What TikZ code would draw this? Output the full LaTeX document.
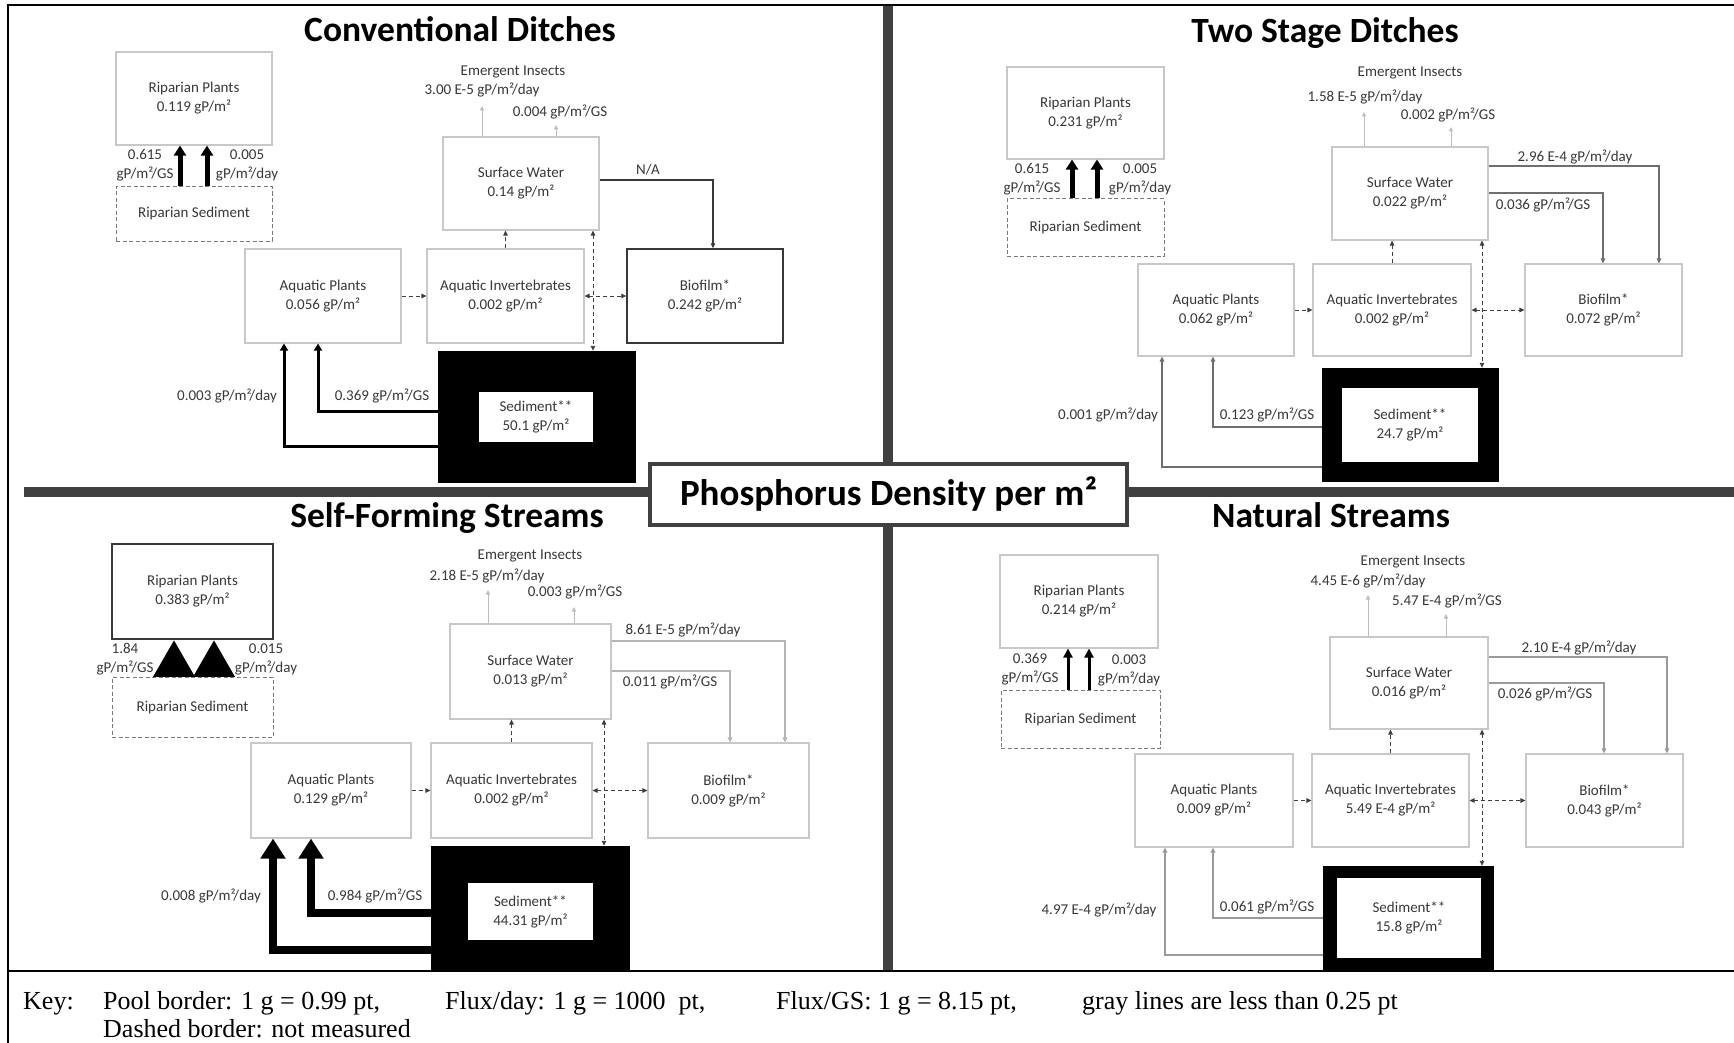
\documentclass[tikz,border=0pt]{standalone}
\usepackage{fontspec}
\setmainfont{Carlito}
\newfontfamily\keyfont{Liberation Serif}
\usetikzlibrary{arrows.meta}
\definecolor{barc}{HTML}{404040}
\definecolor{boxgray}{HTML}{C8C8C8}
\definecolor{txt}{HTML}{383838}
\definecolor{dashc}{HTML}{404040}
\definecolor{emc}{HTML}{BDBDBD}
\definecolor{midc}{HTML}{6E6E6E}
\definecolor{lightc}{HTML}{B4B4B4}
\definecolor{grayc}{HTML}{9A9A9A}
\definecolor{rsc}{HTML}{7A7A7A}
\newcommand\nodefont{\fontsize{15}{19}\selectfont}
\newcommand\headfont{\fontsize{35.5}{42}\selectfont\bfseries}
% a pool box given by its corners (x1,y1,x2,y2), a style and its text
\newcommand\poolat[7]{\node[#6, minimum width={#4-#2}, minimum height={#5-#3}] (#1) at ({(#2+#4)/2},{(#3+#5)/2}) {#7};}
\tikzset{
  pool/.style={draw=boxgray, line width=1.1pt, fill=white, text=txt, align=center, inner sep=0pt, font=\nodefont},
  darkpool/.style={pool, draw=txt, line width=1.5pt},
  rippool/.style={pool, draw=rsc, line width=1pt, dash pattern=on 4pt off 2.5pt},
  sedbox/.style={fill=black, inner sep=0pt},
  sedcore/.style={fill=white, text=txt, align=center, inner sep=0pt, font=\nodefont},
  lab/.style={text=txt, font=\nodefont, align=center, inner sep=0pt},
  head/.style={font=\headfont, text=black, inner sep=0pt},
  keytext/.style={font=\keyfont\fontsize{26}{30}\selectfont, text=black, inner sep=0pt},
  smalltip/.style={-{Triangle[length=5pt,width=4.5pt]}},
  dflow/.style={draw=dashc, line width=0.9pt, dash pattern=on 4pt off 3pt, smalltip},
  dflowb/.style={draw=dashc, line width=0.9pt, dash pattern=on 4pt off 3pt, {Triangle[length=5pt,width=4.5pt]}-{Triangle[length=5pt,width=4.5pt]}},
  emerge/.style={draw=emc, line width=1pt, -{Triangle[length=4.5pt,width=4pt]}},
  darkflux/.style={draw=txt, line width=1.4pt, smalltip},
  midflux/.style={draw=midc, line width=1.3pt, smalltip},
  lightflux/.style={draw=lightc, line width=1.1pt, smalltip},
  grayflux/.style={draw=grayc, line width=1.2pt, smalltip},
  rip3/.style={draw=black, line width=3pt, -{Triangle[length=9pt,width=9pt]}},
  rip5/.style={draw=black, line width=5pt, -{Triangle[length=10pt,width=12pt]}},
  rip15/.style={draw=black, line width=15pt, -{Triangle[length=37pt,width=39pt]}},
  heavy3/.style={draw=black, line width=3pt, -{Triangle[length=7pt,width=8pt]}},
  heavy8/.style={draw=black, line width=8pt, -{Triangle[length=20pt,width=24pt]}},
}
\begin{document}
\begin{tikzpicture}[x=1pt, y=-1pt, line join=miter]
\useasboundingbox (0,0) rectangle (1734,1043);
\fill[white] (0,0) rectangle (1734,1043);

% dividers and the central title
\draw[barc, line width=10pt] (888,5) -- (888,971);
\draw[barc, line width=10pt] (24,492) -- (1734,492);
\node[draw=barc, line width=4.5pt, fill=white, minimum width=477, minimum height=61, inner sep=0pt,
      font=\fontsize{37}{44}\selectfont\bfseries] (maintitle) at (888.5,494.5) {Phosphorus Density per m²};

% ---------------- Conventional Ditches ----------------
\node[head, anchor=base] (h1) at (460,42) {Conventional Ditches};
\poolat{rp1}{116}{52}{272}{145}{pool}{Riparian Plants\\0.119 gP/m²}
\poolat{rs1}{116}{187}{272}{241}{rippool}{Riparian Sediment}
\draw[rip5] (rs1.north -| 180,0) -- (rp1.south -| 180,0);
\draw[rip5] (rs1.north -| 207,0) -- (rp1.south -| 207,0);
\node[lab] (l1a) at (145,165) {0.615\\gP/m²/GS};
\node[lab] (l1b) at (247,165) {0.005\\gP/m²/day};
\poolat{sw1}{443}{137}{599}{230}{pool}{Surface Water\\0.14 gP/m²}
\node[lab] (ei1) at (513,72) {Emergent Insects};
\node[lab] (ei1d) at (482,90) {3.00 E-5 gP/m²/day};
\node[lab] (ei1g) at (560,112) {0.004 gP/m²/GS};
\coordinate (e1a) at (482,106);
\coordinate (e1b) at (556,125);
\draw[emerge] (sw1.north -| e1a) -- (e1a);
\draw[emerge] (sw1.north -| e1b) -- (e1b);
\poolat{ap1}{245}{249}{401}{343}{pool}{Aquatic Plants\\0.056 gP/m²}
\poolat{ai1}{427}{249}{584}{343}{pool}{Aquatic Invertebrates\\0.002 gP/m²}
\poolat{bio1}{627}{249}{783}{343}{darkpool}{Biofilm*\\0.242 gP/m²}
\poolat{sed1}{438}{351}{636}{483}{sedbox}{}
\poolat{sedc1}{479}{392}{593}{442}{sedcore}{Sediment**\\50.1 gP/m²}
\draw[darkflux] (sw1.east |- 0,180) -| (bio1.north -| 713,0);
\node[lab] (na1) at (648,170) {N/A};
\draw[dflow] (ap1.east) -- (ai1.west);
\draw[dflowb] (ai1.east) -- (bio1.west);
\draw[dflow] (ai1.north) -- (ai1.north |- sw1.south);
\draw[dflowb] (sw1.south -| 593,0) -- (sed1.north -| 593,0);
\draw[heavy3] (sed1.west |- 0,411) -| (ap1.south -| 318,0);
\draw[heavy3] (sed1.west |- 0,446) -| (ap1.south -| 284,0);
\node[lab] (f1a) at (227,396) {0.003 gP/m²/day};
\node[lab] (f1b) at (382,396) {0.369 gP/m²/GS};

% ---------------- Two Stage Ditches ----------------
\node[head, anchor=base] (h2) at (1325,43) {Two Stage Ditches};
\poolat{rp2}{1007}{67}{1164}{159}{pool}{Riparian Plants\\0.231 gP/m²}
\poolat{rs2}{1007}{199}{1164}{256}{rippool}{Riparian Sediment}
\draw[rip5] (rs2.north -| 1072,0) -- (rp2.south -| 1072,0);
\draw[rip5] (rs2.north -| 1097,0) -- (rp2.south -| 1097,0);
\node[lab] (l2a) at (1032,179) {0.615\\gP/m²/GS};
\node[lab] (l2b) at (1140,179) {0.005\\gP/m²/day};
\poolat{sw2}{1332}{147}{1488}{240}{pool}{Surface Water\\0.022 gP/m²}
\node[lab] (ei2) at (1410,73) {Emergent Insects};
\node[lab] (ei2d) at (1365,97) {1.58 E-5 gP/m²/day};
\node[lab] (ei2g) at (1448,115) {0.002 gP/m²/GS};
\coordinate (e2a) at (1364,112);
\coordinate (e2b) at (1451,127);
\draw[emerge] (sw2.north -| e2a) -- (e2a);
\draw[emerge] (sw2.north -| e2b) -- (e2b);
\poolat{ap2}{1138}{264}{1294}{356}{pool}{Aquatic Plants\\0.062 gP/m²}
\poolat{ai2}{1313}{264}{1471}{356}{pool}{Aquatic Invertebrates\\0.002 gP/m²}
\poolat{bio2}{1525}{264}{1682}{356}{pool}{Biofilm*\\0.072 gP/m²}
\poolat{sed2}{1322}{368}{1499}{482}{sedbox}{}
\poolat{sedc2}{1342}{388}{1478}{462}{sedcore}{Sediment**\\24.7 gP/m²}
\draw[midflux] (sw2.east |- 0,166) -| (bio2.north -| 1659,0);
\draw[midflux] (sw2.east |- 0,193) -| (bio2.north -| 1603,0);
\node[lab] (f2c) at (1575,157) {2.96 E-4 gP/m²/day};
\node[lab] (f2d) at (1543,205) {0.036 gP/m²/GS};
\draw[dflow] (ap2.east) -- (ai2.west);
\draw[dflowb] (ai2.east) -- (bio2.west);
\draw[dflow] (ai2.north) -- (ai2.north |- sw2.south);
\draw[dflowb] (sw2.south -| 1482,0) -- (sed2.north -| 1482,0);
\draw[midflux] (sed2.west |- 0,427) -| (ap2.south -| 1213,0);
\draw[midflux] (sed2.west |- 0,467) -| (ap2.south -| 1162,0);
\node[lab] (f2a) at (1108,415) {0.001 gP/m²/day};
\node[lab] (f2b) at (1267,415) {0.123 gP/m²/GS};

% ---------------- Self-Forming Streams ----------------
\node[head, anchor=base] (h3) at (447,527) {Self-Forming Streams};
\poolat{rp3}{112}{544}{273}{639}{darkpool}{Riparian Plants\\0.383 gP/m²}
\poolat{rs3}{112}{677}{273}{737}{rippool}{Riparian Sediment}
\draw[rip15] (rs3.north -| 174,0) -- (rp3.south -| 174,0);
\draw[rip15] (rs3.north -| 214,0) -- (rp3.south -| 214,0);
\node[lab] (l3a) at (125,659) {1.84\\gP/m²/GS};
\node[lab] (l3b) at (266,659) {0.015\\gP/m²/day};
\poolat{sw3}{450}{624}{611}{719}{pool}{Surface Water\\0.013 gP/m²}
\node[lab] (ei3) at (530,556) {Emergent Insects};
\node[lab] (ei3d) at (487,576) {2.18 E-5 gP/m²/day};
\node[lab] (ei3g) at (575,592) {0.003 gP/m²/GS};
\coordinate (e3a) at (488,590);
\coordinate (e3b) at (574,607);
\draw[emerge] (sw3.north -| e3a) -- (e3a);
\draw[emerge] (sw3.north -| e3b) -- (e3b);
\poolat{ap3}{251}{743}{411}{838}{pool}{Aquatic Plants\\0.129 gP/m²}
\poolat{ai3}{431}{743}{592}{838}{pool}{Aquatic Invertebrates\\0.002 gP/m²}
\poolat{bio3}{648}{743}{809}{838}{pool}{Biofilm*\\0.009 gP/m²}
\poolat{sed3}{431}{846}{630}{972}{sedbox}{}
\poolat{sedc3}{468}{883}{593}{940}{sedcore}{Sediment**\\44.31 gP/m²}
\draw[lightflux] (sw3.east |- 0,641) -| (bio3.north -| 785,0);
\draw[lightflux] (sw3.east |- 0,671) -| (bio3.north -| 730,0);
\node[lab] (f3c) at (683,630) {8.61 E-5 gP/m²/day};
\node[lab] (f3d) at (670,682) {0.011 gP/m²/GS};
\draw[dflow] (ap3.east) -- (ai3.west);
\draw[dflowb] (ai3.east) -- (bio3.west);
\draw[dflow] (ai3.north) -- (ai3.north |- sw3.south);
\draw[dflowb] (sw3.south -| 604,0) -- (sed3.north -| 604,0);
\draw[heavy8] (sed3.west |- 0,913) -| (ap3.south -| 311,0);
\draw[heavy8] (sed3.west |- 0,950) -| (ap3.south -| 273,0);
\node[lab] (f3a) at (211,896) {0.008 gP/m²/day};
\node[lab] (f3b) at (375,896) {0.984 gP/m²/GS};

% ---------------- Natural Streams ----------------
\node[head, anchor=base] (h4) at (1331,527) {Natural Streams};
\poolat{rp4}{1000}{555}{1158}{648}{pool}{Riparian Plants\\0.214 gP/m²}
\poolat{rs4}{1001}{690}{1160}{748}{rippool}{Riparian Sediment}
\draw[rip3] (rs4.north -| 1068,0) -- (rp4.south -| 1068,0);
\draw[rip3] (rs4.north -| 1089,0) -- (rp4.south -| 1089,0);
\node[lab] (l4a) at (1030,669) {0.369\\gP/m²/GS};
\node[lab] (l4b) at (1129,670) {0.003\\gP/m²/day};
\poolat{sw4}{1330}{637}{1488}{729}{pool}{Surface Water\\0.016 gP/m²}
\node[lab] (ei4) at (1413,562) {Emergent Insects};
\node[lab] (ei4d) at (1368,581) {4.45 E-6 gP/m²/day};
\node[lab] (ei4g) at (1447,601) {5.47 E-4 gP/m²/GS};
\coordinate (e4a) at (1368,595);
\coordinate (e4b) at (1446,614);
\draw[emerge] (sw4.north -| e4a) -- (e4a);
\draw[emerge] (sw4.north -| e4b) -- (e4b);
\poolat{ap4}{1135}{754}{1293}{847}{pool}{Aquatic Plants\\0.009 gP/m²}
\poolat{ai4}{1312}{754}{1469}{847}{pool}{Aquatic Invertebrates\\5.49 E-4 gP/m²}
\poolat{bio4}{1526}{754}{1683}{847}{pool}{Biofilm*\\0.043 gP/m²}
\poolat{sed4}{1323}{866}{1494}{972}{sedbox}{}
\poolat{sedc4}{1337}{878}{1481}{958}{sedcore}{Sediment**\\15.8 gP/m²}
\draw[grayflux] (sw4.east |- 0,657) -| (bio4.north -| 1667,0);
\draw[grayflux] (sw4.east |- 0,683) -| (bio4.north -| 1604,0);
\node[lab] (f4c) at (1579,648) {2.10 E-4 gP/m²/day};
\node[lab] (f4d) at (1545,694) {0.026 gP/m²/GS};
\draw[dflow] (ap4.east) -- (ai4.west);
\draw[dflowb] (ai4.east) -- (bio4.west);
\draw[dflow] (ai4.north) -- (ai4.north |- sw4.south);
\draw[dflowb] (sw4.south -| 1482,0) -- (sed4.north -| 1482,0);
\draw[grayflux] (sed4.west |- 0,918) -| (ap4.south -| 1213,0);
\draw[grayflux] (sed4.west |- 0,955) -| (ap4.south -| 1165,0);
\node[lab] (f4a) at (1099,910) {4.97 E-4 gP/m²/day};
\node[lab] (f4b) at (1267,907) {0.061 gP/m²/GS};

% ---------------- frame and key ----------------
\draw[line width=2pt] (8,1043) -- (8,5) -- (1734,5);
\draw[line width=2.5pt] (8,971) -- (1734,971);
\node[keytext, anchor=base west] (k0) at (23,1009) {Key:};
\node[keytext, anchor=base west] (k1) at (103,1009) {Pool border: 1 g = 0.99 pt,};
\node[keytext, anchor=base west] (k2) at (445,1009) {Flux/day: 1 g = 1000\ \ pt,};
\node[keytext, anchor=base west] (k3) at (776,1009) {Flux/GS: 1 g = 8.15 pt,};
\node[keytext, anchor=base west] (k4) at (1082,1009) {gray lines are less than 0.25 pt};
\node[keytext, anchor=base west] (k5) at (103,1037) {Dashed border: not measured};
\end{tikzpicture}
\end{document}
